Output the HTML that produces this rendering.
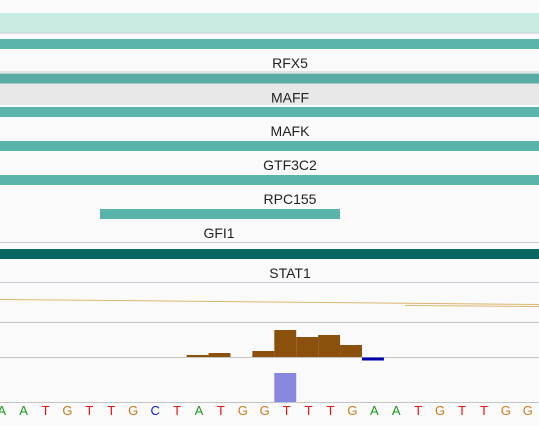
<!DOCTYPE html>
<html><head><meta charset="utf-8"><style>
body{margin:0;background:#fafafa;}
svg{display:block;font-family:"Liberation Sans",sans-serif;}
</style></head><body>
<svg id="c" width="539" height="426" viewBox="0 0 539 426">
<rect x="0" y="0" width="539" height="426" fill="#fafafa"/>
<rect x="0" y="13" width="539" height="19.5" fill="#c8ebe4"/>
<line x1="0" x2="539" y1="33" y2="33" stroke="#cfcbd8" stroke-width="1"/>
<rect x="0" y="83" width="539" height="22" fill="#e8e8e8"/>
<line x1="0" x2="539" y1="72" y2="72" stroke="#e2e2e2" stroke-width="2"/>
<g id="tf"></g>
<line x1="0" x2="539" y1="242.5" y2="242.5" stroke="#cfcbd8"/>
<line x1="0" x2="539" y1="282.5" y2="282.5" stroke="#cfcbd8"/>
<line x1="0" y1="299.5" x2="539" y2="304.5" stroke="#dcb570" stroke-width="1"/>
<line x1="405" y1="305.5" x2="539" y2="306.5" stroke="#dcb570" stroke-width="1"/>
<line x1="0" x2="539" y1="322.5" y2="322.5" stroke="#c4c4c4"/>
<line x1="0" x2="539" y1="357.5" y2="357.5" stroke="#c4c4c4"/>
<g id="sig"></g>
<line x1="0" x2="539" y1="402.5" y2="402.5" stroke="#c4c4c4"/>
<g id="seq"></g>
</svg>
<script>
const tfNames=["RFX5","MAFF","MAFK","GTF3C2","RPC155","GFI1","STAT1"];
const tfStart=[0,0,0,0,0,4.5,0];
const tfEnd=[25,25,25,25,25,15.5,25];
const tfStrong=[0,0,0,0,0,0,1];
const bases=["A","A","T","G","T","T","G","C","T","A","T","G","G","T","T","T","G","A","A","T","G","T","T","G","G"];
const posIdx=[8.5,9.5,11.5,12.5,13.5,14.5,15.5];
const posVal=[2,4,6,27,20,22,12];
const negIdx=[16.5];
const negVal=[3];
const snvIdx=[12.5];
const snvVal=[29];
const NS="http://www.w3.org/2000/svg";
const bw=21.92, x0=0.3;
const xs=i=>x0+i*bw;
function mk(t,a,p){const e=document.createElementNS(NS,t);for(const k in a)e.setAttribute(k,a[k]);p.appendChild(e);return e;}
const tf=document.getElementById('tf');
const barY=[39,73.5,107,141,175,209,249];
tfNames.forEach((n,i)=>{
  const r=mk('rect',{x:i===5?100:0,y:barY[i],width:i===5?240:539,height:10,fill:tfStrong[i]?'#07665f':(i===1?'#5aaba3':'#5bb4ab')},tf);
  
  
  const t=mk('text',{x:i===5?219:290,y:barY[i]+29,'text-anchor':'middle','font-size':'14',fill:'#222'},tf);
  t.textContent=n;
  
  
});
const sig=document.getElementById('sig');
const base=357, sc=1.0;
posIdx.forEach((p,i)=>{
  const r=mk('rect',{x:xs(p),y:base-posVal[i]*sc,width:bw,height:posVal[i]*sc,fill:'#8b510c'},sig);
  
  
});
negIdx.forEach((p,i)=>{
  const r=mk('rect',{x:xs(p),y:base+0.5,width:bw,height:negVal[i],fill:'#0000aa'},sig);
  
  
});
snvIdx.forEach((p,i)=>{
  const r=mk('rect',{x:xs(p),y:402-snvVal[i],width:bw,height:snvVal[i],fill:'#8888e0'},sig);
  
  
});
const col={A:'#1a9a1a',T:'#ee1111',G:'#d07a17',C:'#1111ee'};
const seq=document.getElementById('seq');
bases.forEach((b,i)=>{
  const t=mk('text',{x:1.7+i*bw,y:415,'text-anchor':'middle','font-size':'13',fill:col[b]},seq);
  t.textContent=b;
  
  
});
</script>
</body></html>
